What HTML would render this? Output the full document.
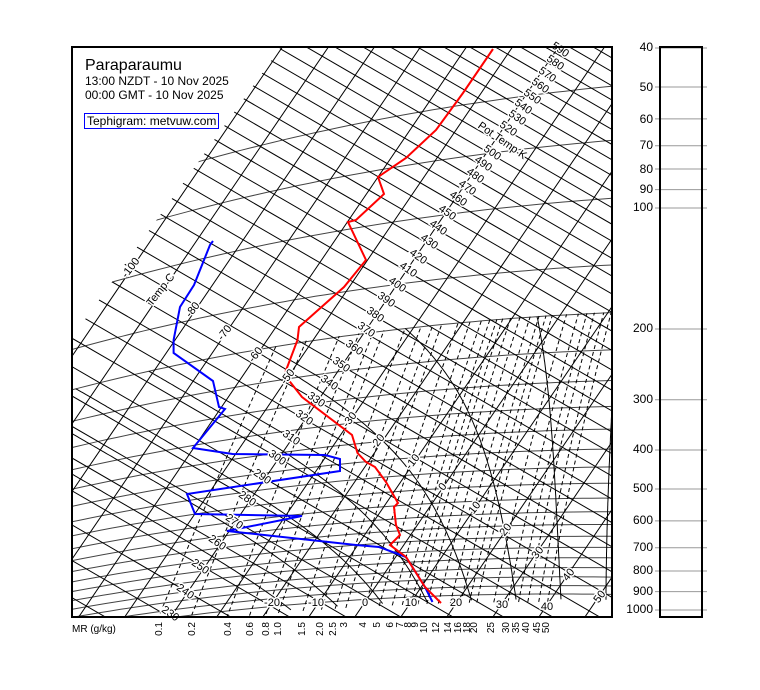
<!DOCTYPE html>
<html><head><meta charset="utf-8"><style>
html,body{margin:0;padding:0;background:#fff;width:760px;height:690px;overflow:hidden;}
svg{display:block;font-family:"Liberation Sans",Arial,sans-serif;}
.lb{font-size:11px;fill:#000;stroke:#fff;stroke-width:3px;paint-order:stroke;}
.mr{font-size:10px;fill:#000;}
.pr{font-size:12px;fill:#000;}
</style></head><body>
<svg id="s" width="760" height="690" viewBox="0 0 760 690" xmlns="http://www.w3.org/2000/svg">
<defs>
<clipPath id="cp"><rect x="72" y="47" width="540" height="570"/></clipPath>
<clipPath id="cp2"><polygon points="281,47 612,47 612,617 -129,617"/></clipPath>
</defs>
<rect width="760" height="690" fill="#fff"/>
<g clip-path="url(#cp)"><g id="grid" clip-path="url(#cp2)"></g></g>
<g clip-path="url(#cp)">
<polyline fill="none" stroke="#0000ff" stroke-width="2" points="213,241 210,245 194,285 180,307 173.6,340 173.6,353 213,381 219,407 225,409 193,448 232.5,454 325,455 340,459 340,471 187,494 195,514 302,516 227,531 356,545 379,547 406,557 425,587 432.5,602"/>
<polyline fill="none" stroke="#ff0000" stroke-width="2" points="493,49 463,93 436,130 406,158 378,177 384,194 356,220 348,222 366,260 344,287 299,327 297.5,340 285,373 287,378 302,397 352,435 357.5,453 366,462 375,467 386,482 398,503 394,507 396,525 400,535 390,545 406,557 425,587 441,603"/>
</g>
<g id="labels">
<g class="lb" text-anchor="middle" dominant-baseline="middle">
<text transform="translate(560,50) rotate(35)">590</text>
<text transform="translate(555,63) rotate(35)">580</text>
<text transform="translate(547,75) rotate(35)">570</text>
<text transform="translate(540,86) rotate(35)">560</text>
<text transform="translate(532,97) rotate(35)">550</text>
<text transform="translate(523,107) rotate(35)">540</text>
<text transform="translate(517,118) rotate(35)">530</text>
<text transform="translate(508,129) rotate(35)">520</text>
<text transform="translate(502,141) rotate(35)">Pot Temp K</text>
<text transform="translate(492,153) rotate(35)">500</text>
<text transform="translate(483,164) rotate(35)">490</text>
<text transform="translate(475,176) rotate(35)">480</text>
<text transform="translate(467,188) rotate(35)">470</text>
<text transform="translate(458,199) rotate(35)">460</text>
<text transform="translate(447,213) rotate(35)">450</text>
<text transform="translate(438,228) rotate(35)">440</text>
<text transform="translate(429,242) rotate(35)">430</text>
<text transform="translate(418,257) rotate(35)">420</text>
<text transform="translate(408,270) rotate(35)">410</text>
<text transform="translate(397,285) rotate(35)">400</text>
<text transform="translate(386,300) rotate(35)">390</text>
<text transform="translate(375,315) rotate(35)">380</text>
<text transform="translate(366,330) rotate(35)">370</text>
<text transform="translate(354,348) rotate(35)">360</text>
<text transform="translate(341,365) rotate(35)">350</text>
<text transform="translate(329,383) rotate(35)">340</text>
<text transform="translate(316,400) rotate(35)">330</text>
<text transform="translate(304,418) rotate(35)">320</text>
<text transform="translate(291,438) rotate(35)">310</text>
<text transform="translate(277,458) rotate(35)">300</text>
<text transform="translate(262,477) rotate(35)">290</text>
<text transform="translate(247,499) rotate(35)">280</text>
<text transform="translate(234,522) rotate(35)">270</text>
<text transform="translate(217,543) rotate(35)">260</text>
<text transform="translate(200,567) rotate(35)">250</text>
<text transform="translate(185,592) rotate(35)">240</text>
<text transform="translate(170,614) rotate(35)">230</text>
</g>
<g class="lb" text-anchor="middle" dominant-baseline="middle">
<text transform="translate(131,268) rotate(-52)">-100</text>
<text transform="translate(161,290) rotate(-52)">Temp C</text>
<text transform="translate(193,310) rotate(-52)">-80</text>
<text transform="translate(225,333) rotate(-52)">-70</text>
<text transform="translate(256,355) rotate(-52)">-60</text>
<text transform="translate(288,377) rotate(-52)">-50</text>
<text transform="translate(350,420) rotate(-52)">-30</text>
<text transform="translate(378,442) rotate(-52)">-20</text>
<text transform="translate(413,462) rotate(-52)">-10</text>
<text transform="translate(443,487) rotate(-52)">0</text>
<text transform="translate(475,508) rotate(-52)">10</text>
<text transform="translate(506,530) rotate(-52)">20</text>
<text transform="translate(538,553) rotate(-52)">30</text>
<text transform="translate(569,575) rotate(-52)">40</text>
<text transform="translate(600,597) rotate(-52)">50</text>
</g>
<g class="lb" text-anchor="middle" dominant-baseline="middle">
<text x="272" y="603">-20</text>
<text x="316" y="603">-10</text>
<text x="365" y="603">0</text>
<text x="411" y="603">10</text>
<text x="456" y="603">20</text>
<text x="502" y="605">30</text>
<text x="547" y="607">40</text>
</g>
</g>
<rect x="72" y="47" width="540" height="570" fill="none" stroke="#000" stroke-width="2"/>
<text x="85" y="70" font-size="16">Paraparaumu</text>
<text x="85" y="85" font-size="12">13:00 NZDT - 10 Nov 2025</text>
<text x="85" y="99" font-size="12">00:00 GMT - 10 Nov 2025</text>
<rect x="84.5" y="113.5" width="134" height="15" fill="#fff" stroke="#0000ff" stroke-width="1"/>
<text x="87" y="125" font-size="12">Tephigram: metvuw.com</text>
<text x="72" y="632" font-size="10">MR (g/kg)</text>
<g class="mr" text-anchor="end">
<text transform="translate(162,622) rotate(-90)">0.1</text>
<text transform="translate(195,622) rotate(-90)">0.2</text>
<text transform="translate(231,622) rotate(-90)">0.4</text>
<text transform="translate(253,622) rotate(-90)">0.6</text>
<text transform="translate(269,622) rotate(-90)">0.8</text>
<text transform="translate(281,622) rotate(-90)">1.0</text>
<text transform="translate(305,622) rotate(-90)">1.5</text>
<text transform="translate(323,622) rotate(-90)">2.0</text>
<text transform="translate(336,622) rotate(-90)">2.5</text>
<text transform="translate(347,622) rotate(-90)">3</text>
<text transform="translate(366,622) rotate(-90)">4</text>
<text transform="translate(380,622) rotate(-90)">5</text>
<text transform="translate(393,622) rotate(-90)">6</text>
<text transform="translate(403,622) rotate(-90)">7</text>
<text transform="translate(411,622) rotate(-90)">8</text>
<text transform="translate(418,622) rotate(-90)">9</text>
<text transform="translate(427,622) rotate(-90)">10</text>
<text transform="translate(439,622) rotate(-90)">12</text>
<text transform="translate(451,622) rotate(-90)">14</text>
<text transform="translate(461,622) rotate(-90)">16</text>
<text transform="translate(470,622) rotate(-90)">18</text>
<text transform="translate(477,622) rotate(-90)">20</text>
<text transform="translate(494,622) rotate(-90)">25</text>
<text transform="translate(509,622) rotate(-90)">30</text>
<text transform="translate(519,622) rotate(-90)">35</text>
<text transform="translate(529,622) rotate(-90)">40</text>
<text transform="translate(540,622) rotate(-90)">45</text>
<text transform="translate(549,622) rotate(-90)">50</text>
</g>
<g id="rp" stroke="#999" stroke-width="1"></g>
<rect x="660" y="47" width="42" height="570" fill="none" stroke="#000" stroke-width="2"/>
<g class="pr" text-anchor="end" dominant-baseline="middle">
<text x="653" y="48">40</text>
<text x="653" y="88">50</text>
<text x="653" y="120">60</text>
<text x="653" y="146">70</text>
<text x="653" y="170">80</text>
<text x="653" y="190">90</text>
<text x="653" y="208">100</text>
<text x="653" y="329">200</text>
<text x="653" y="400">300</text>
<text x="653" y="450">400</text>
<text x="653" y="489">500</text>
<text x="653" y="521">600</text>
<text x="653" y="548">700</text>
<text x="653" y="571">800</text>
<text x="653" y="592">900</text>
<text x="653" y="610">1000</text>
</g>
</svg>
<script>
(function(){
var NS="http://www.w3.org/2000/svg";
var a=3.3,b=408,X0=372.5,Y0=591,L0=Math.log(273.15);
function P(T,L){var d=L-L0;return [X0+a*T+b*d, Y0+0.58*a*T-1.47*b*d];}
function Pp(T,p){return P(T,Math.log(T+273.15)+0.2857*Math.log(1000/p));}
var g=document.getElementById('grid');
function pl(pts,attrs){var e=document.createElementNS(NS,'polyline');
 e.setAttribute('points',pts.map(function(q){return q[0].toFixed(1)+','+q[1].toFixed(1);}).join(' '));
 e.setAttribute('fill','none');for(var k in attrs)e.setAttribute(k,attrs[k]);g.appendChild(e);}
var blk={stroke:'#000','stroke-width':'1'};
var plev=[1050,1000,950,900,850,800,750,700,650,600,550,500,450,400,350,300,250,200,150,100,70,50];
plev.forEach(function(p){var pts=[];for(var T=-130;T<=70;T+=2)pts.push(Pp(T,p));pl(pts,{stroke:'#444','stroke-width':'1'});});
for(var T=-140;T<=70;T+=10){pl([P(T,Math.log(120)),P(T,Math.log(900))],blk);}
for(var th=180;th<=650;th+=10){var L=Math.log(th);pl([P(-160,L),P(90,L)],blk);}
var mr=[[0.1,158.6],[0.2,191],[0.4,227],[0.6,249],[0.8,265],[1.0,277],[1.5,301],[2.0,319],[2.5,332.5],[3,343],[4,362],[5,376],[6,389],[7,399],[8,407.5],[9,414.6],[10,423.6],[12,435],[14,447],[16,457.5],[18,466],[20,473.6],[25,490.7],[30,505],[35,515.7],[40,525],[45,536],[50,545]];
mr.forEach(function(m){var w=m[0],pts=[];
 for(var p=1100;p>=200;p-=10){var e=w*p/(622+w);var x=Math.log(e/6.112);var Td=243.5*x/(17.67-x);pts.push(Pp(Td,p));}
 var i=0;while(i<pts.length-2&&pts[i+1][1]>617)i++;
 var A=pts[i],B=pts[i+1];var t=(617-A[1])/(B[1]-A[1]);var xb=A[0]+t*(B[0]-A[0]);
 var dx=m[1]-xb;pts=pts.map(function(q){return [q[0]+dx,q[1]];});
 pl(pts,{stroke:'#000','stroke-width':'1','stroke-dasharray':'4,3'});});
function dTdlnp(Tc,p){var Tk=Tc+273.15;var es=6.112*Math.exp(17.67*Tc/(Tc+243.5));var rs=0.622*es/(p-es);
 return (287*Tk+2.5e6*rs)/(1004+2.5e6*2.5e6*rs*0.622/(287*Tk*Tk));}
for(var tw=-20;tw<=50;tw+=10){
 var Tb=tw,lpp=Math.log(1000);while(lpp<Math.log(1080)){var hh=0.005;Tb+=dTdlnp(Tb,Math.exp(lpp))*hh;lpp+=hh;}
 var pts=[],Tcur=Tb,lc=lpp;
 while(lc>Math.log(200)){pts.push(Pp(Tcur,Math.exp(lc)));var h2=-0.01;Tcur+=dTdlnp(Tcur,Math.exp(lc))*h2;lc+=h2;}
 pts.push(Pp(Tcur,200));
 pl(pts,{stroke:'#000','stroke-width':'1'});}
var rp=document.getElementById('rp');
[40,50,60,70,80,90,100,200,300,400,500,600,700,800,900,1000].forEach(function(p){var y=610-402*Math.log10(1000/p);
 var l=document.createElementNS(NS,'line');l.setAttribute('x1',655);l.setAttribute('x2',707);l.setAttribute('y1',y);l.setAttribute('y2',y);rp.appendChild(l);});
})();
</script>
</body></html>
